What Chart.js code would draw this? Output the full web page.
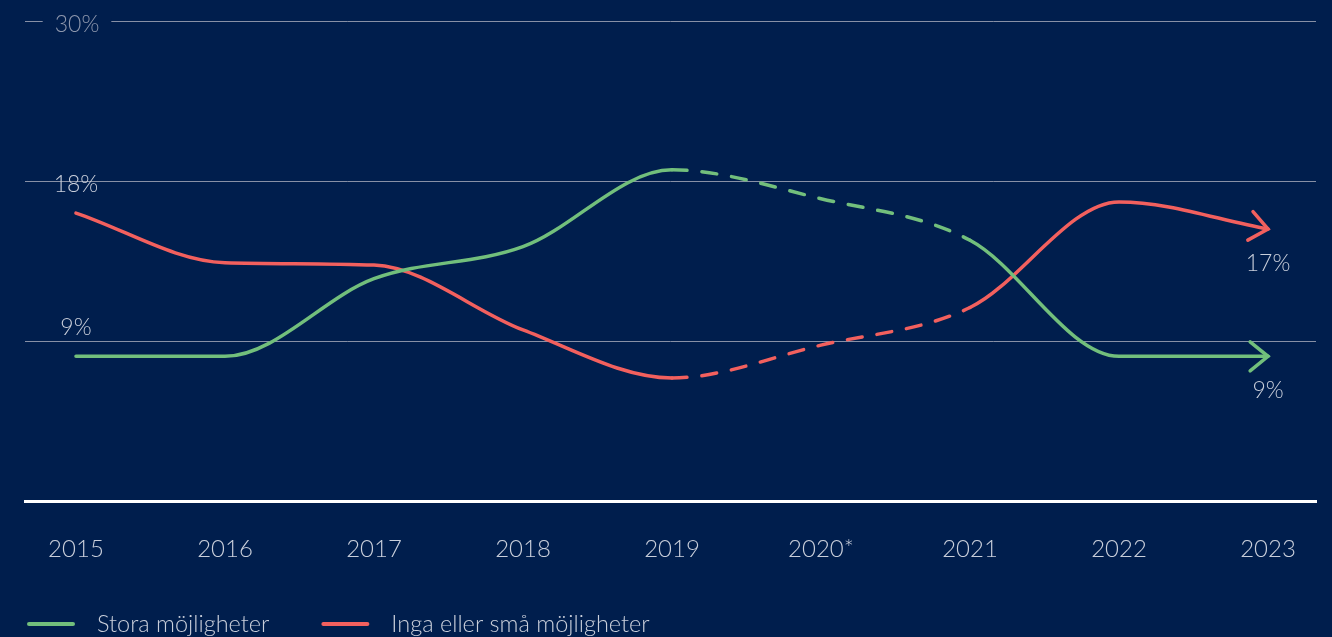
<!DOCTYPE html>
<html><head><meta charset="utf-8">
<script src="https://cdn.jsdelivr.net/npm/chart.js@4.4.1/dist/chart.umd.min.js"></script>
<style>
html,body{margin:0;padding:0;background:#001e4d;overflow:hidden;}
#wrap{position:relative;width:1332px;height:637px;}
</style></head><body>
<div id="wrap"><canvas id="c" width="1332" height="637"></canvas></div>
<script>
// ---- data ----
const years = ['2015','2016','2017','2018','2019','2020*','2021','2022','2023'];
const stora = [9.05, 9.05, 13.9, 15.9, 20.7, 18.9, 16.3, 9.05, 9.05];
const inga  = [18.0, 14.9, 14.75, 10.7, 7.7, 9.75, 12.1, 18.7, 17.0];
const seriesNames = ['Stora möjligheter', 'Inga eller små möjligheter'];
const yTickValues = [0, 10, 20, 30];
const dashedFrom = '2019', dashedTo = '2021';

// ---- styles ----
const BG = '#001e4d';
const GREEN = '#72bf7c';
const RED = '#f2605e';
const TEXT = '#c9cfdb';
const FONT = 'Lato, "Open Sans", sans-serif';

const d0 = years.indexOf(dashedFrom), d1 = years.indexOf(dashedTo);
const dashSeg = ctx => (ctx.p0DataIndex >= d0 && ctx.p1DataIndex <= d1) ? [15, 15] : undefined;

const decor = {
  id: 'decor',
  beforeDatasetsDraw(chart) {
    const {ctx, scales: {y}} = chart;
    const v = yTickValues[yTickValues.length - 1];
    const py = y.getPixelForValue(v);
    ctx.save();
    ctx.font = '300 23px ' + FONT;
    const txt = v + '%';
    const w = ctx.measureText(txt).width;
    const cx = 77;
    ctx.fillStyle = BG;
    ctx.fillRect(cx - w / 2 - 12, py - 3, w + 24, 6);
    ctx.fillStyle = '#8d97ad';
    ctx.textAlign = 'center';
    ctx.textBaseline = 'middle';
    ctx.fillText(txt, cx, py + 4);
    ctx.restore();
  },
  afterDatasetsDraw(chart) {
    const {ctx} = chart;
    chart.data.datasets.forEach((ds, i) => {
      const meta = chart.getDatasetMeta(i);
      const pts = meta.data;
      const last = pts[pts.length - 1];
      const ang = Math.atan2(last.y - last.cp1y, last.x - last.cp1x);
      const L = 23, th = 0.68;
      ctx.save();
      ctx.strokeStyle = ds.borderColor;
      ctx.lineWidth = 3.5;
      ctx.lineCap = 'round';
      ctx.lineJoin = 'miter';
      ctx.beginPath();
      ctx.moveTo(last.x - L * Math.cos(ang - th), last.y - L * Math.sin(ang - th));
      ctx.lineTo(last.x, last.y);
      ctx.lineTo(last.x - L * Math.cos(ang + th), last.y - L * Math.sin(ang + th));
      ctx.stroke();
      // value labels
      ctx.font = '300 23px ' + FONT;
      ctx.fillStyle = TEXT;
      ctx.textAlign = 'center';
      ctx.textBaseline = 'middle';
      const first = pts[0];
      ctx.fillText(Math.round(ds.data[0].y) + '%', first.x, first.y - 29);
      ctx.fillText(Math.round(ds.data[ds.data.length - 1].y) + '%', last.x, last.y + 34);
      ctx.restore();
    });
  },
  afterDraw(chart) {
    const {ctx} = chart;
    ctx.save();
    ctx.font = '300 23.5px ' + FONT;
    ctx.textBaseline = 'middle';
    let x = 27;
    const yy = 624;
    chart.data.datasets.forEach(ds => {
      ctx.strokeStyle = ds.borderColor;
      ctx.lineWidth = 4;
      ctx.lineCap = 'round';
      ctx.beginPath();
      ctx.moveTo(x + 2, yy);
      ctx.lineTo(x + 46, yy);
      ctx.stroke();
      ctx.fillStyle = TEXT;
      ctx.textAlign = 'left';
      ctx.fillText(ds.label, x + 70, yy);
      x += 70 + ctx.measureText(ds.label).width + 52;
    });
    ctx.restore();
  }
};

new Chart(document.getElementById('c'), {
  type: 'line',
  data: {
    labels: years,
    datasets: [
      { label: seriesNames[0], data: stora.map((v, i) => ({x: i, y: v})), borderColor: GREEN },
      { label: seriesNames[1], data: inga.map((v, i) => ({x: i, y: v})), borderColor: RED }
    ].map(d => Object.assign(d, {
      borderWidth: 3.5, pointRadius: 0, fill: false,
      cubicInterpolationMode: 'monotone', borderCapStyle: 'round', borderJoinStyle: 'round',
      segment: { borderDash: dashSeg }
    }))
  },
  options: {
    responsive: false, animation: false, devicePixelRatio: 1,
    layout: { padding: { left: 25, right: 16, top: 21, bottom: 39 } },
    plugins: { legend: { display: false }, tooltip: { enabled: false } },
    scales: {
      x: {
        type: 'linear', min: -0.342, max: 8.322,
        afterBuildTicks: s => { s.ticks = years.map((_, i) => ({value: i})); },
        ticks: { callback: v => years[v], color: TEXT, font: { family: FONT, size: 24, weight: 300 }, padding: 34, maxRotation: 0, autoSkip: false },
        grid: { display: false, drawTicks: false },
        border: { display: true, color: '#ffffff', width: 3 }
      },
      y: {
        min: 0, max: 30,
        afterBuildTicks: s => { s.ticks = yTickValues.map(v => ({value: v})); },
        afterFit: s => { s.width = 0; },
        ticks: { display: false },
        grid: { color: c => c.tick.value === 0 ? 'rgba(0,0,0,0)' : '#8790a6', lineWidth: 1, drawTicks: false },
        border: { display: false }
      }
    }
  },
  plugins: [decor]
});
</script>
</body></html>
